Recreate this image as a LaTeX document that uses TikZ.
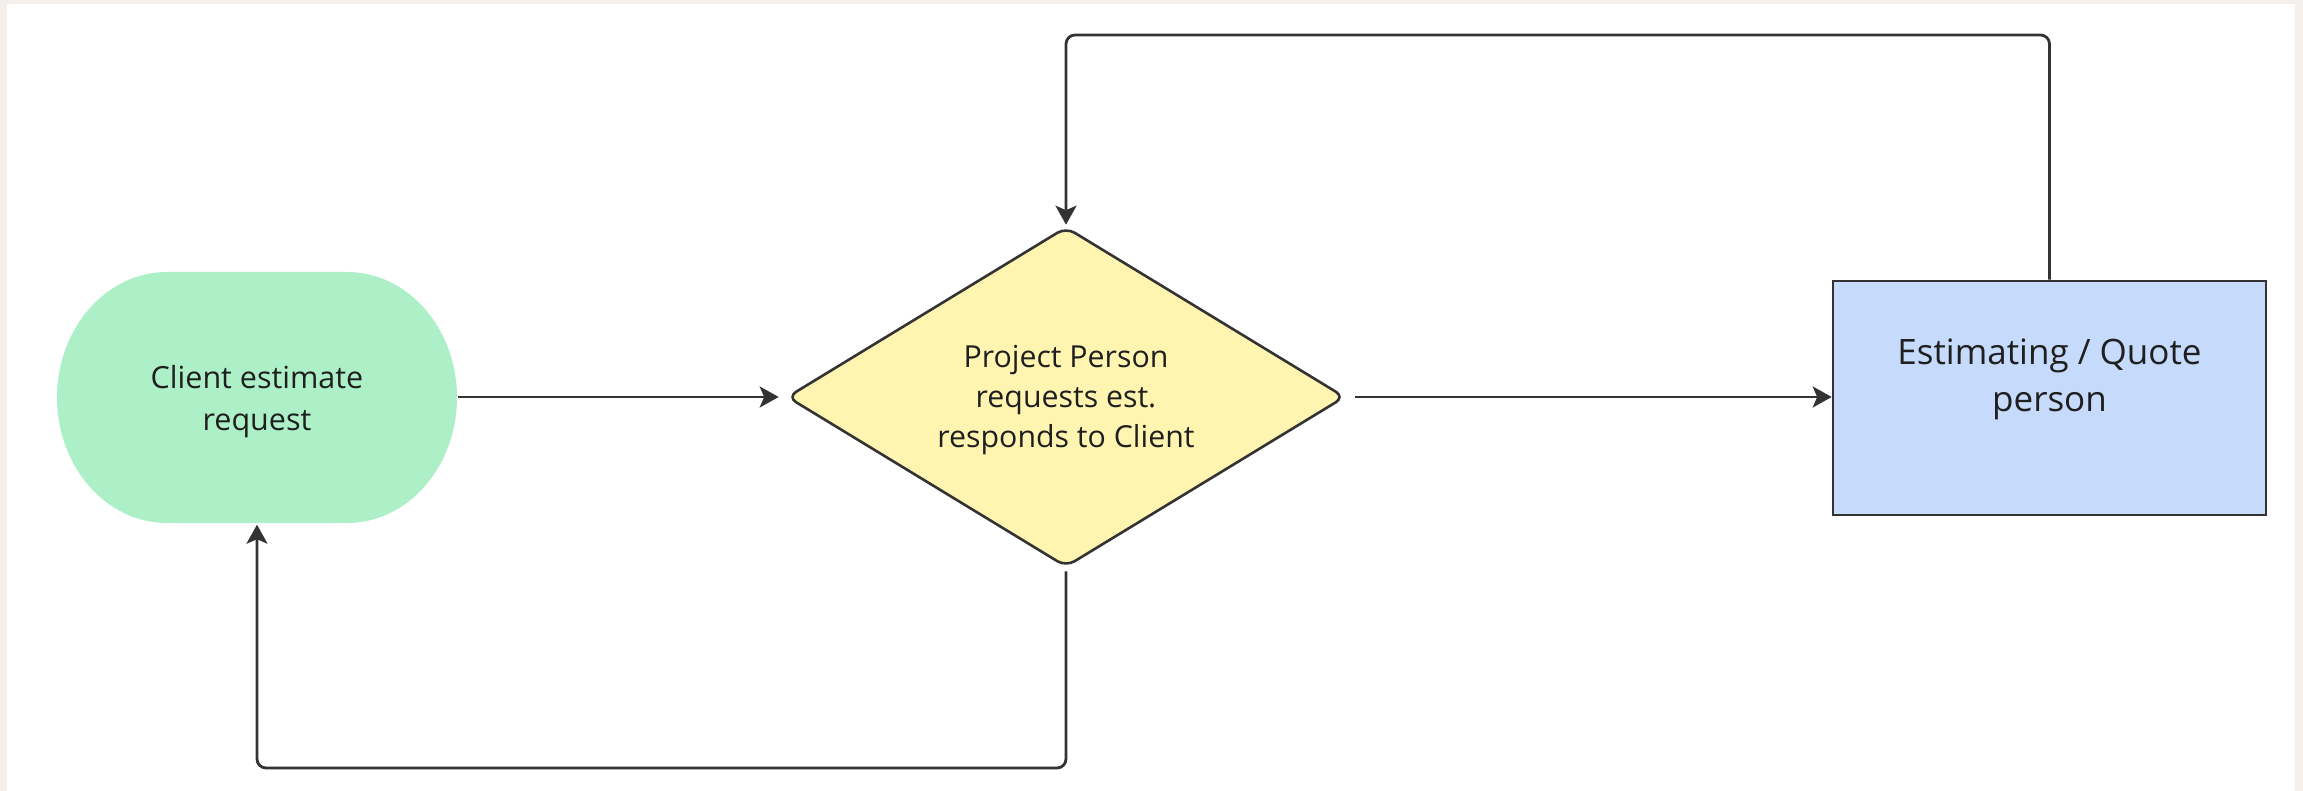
\documentclass[tikz,border=0pt]{standalone}
\usepackage{fontspec}
\setmainfont{Open Sans}
\usetikzlibrary{shapes.geometric,arrows.meta}
\definecolor{bgframe}{HTML}{F3EFEB}
\definecolor{termgreen}{HTML}{ADF0C8}
\definecolor{decyellow}{HTML}{FFF5B1}
\definecolor{procblue}{HTML}{C6DBFB}
\definecolor{linegray}{HTML}{333333}
\definecolor{txt}{HTML}{1F1F1F}
\tikzset{
  termbox/.style={rectangle, minimum width=401pt, minimum height=252pt,
    inner sep=0pt},
  termtext/.style={align=center, text=txt, font=\fontsize{30.5}{42}\selectfont},
  decbox/.style={diamond, aspect=1.64, draw=linegray, line width=2.6pt, fill=decyellow,
    rounded corners=10pt, minimum width=558pt, minimum height=340pt,
    inner sep=0pt},
  dectext/.style={align=center, text=txt, font=\fontsize{30.3}{40}\selectfont},
  procbox/.style={rectangle, draw=linegray, line width=2.6pt, fill=procblue,
    minimum width=433pt, minimum height=234pt},
  proctext/.style={align=center, text=txt, font=\fontsize{35}{47}\selectfont},
  conn/.style={draw=linegray, line width=2.8pt, rounded corners=9pt,
    -{Stealth[length=19pt,width=21pt,inset=4.5pt]}}
}
\begin{document}
\begin{tikzpicture}[x=1pt,y=-1pt]
\useasboundingbox (0,0) rectangle (2303,791);
\fill[bgframe] (0,0) rectangle (2303,791);
\fill[white] (7,4) rectangle (2295,791);

% stadium shape of the terminal
\fill[termgreen] (167,272) -- (347,272)
  arc[start angle=-90, end angle=90, x radius=110, y radius=125.5]
  -- (167,523)
  arc[start angle=90, end angle=270, x radius=110, y radius=125.5] -- cycle;
\node[termbox, label={[termtext, yshift=-4pt]center:Client estimate\\request}] (client) at (257,397.5) {};
\node[decbox, label={[dectext, yshift=-3pt]center:Project Person\\requests est.\\responds to Client}] (dec) at (1066,397) {};
\node[procbox, label={[proctext, yshift=19pt]center:Estimating / Quote\\person}] (proc) at (2049.5,398) {};

\coordinate (toprail) at (0,35);
\coordinate (botrail) at (0,768);

\draw[conn, shorten >=7pt] (client.east |- dec.west) -- (dec.west);
\draw[conn, shorten <=9pt] (dec.east) -- (proc.west |- dec.east);
\draw[conn, shorten >=1pt] (proc.north) -- (proc.north |- toprail) -| (dec.north);
\draw[conn, shorten <=3pt, shorten >=1pt] (dec.south) -- (dec.south |- botrail) -| (client.south);
\end{tikzpicture}
\end{document}
